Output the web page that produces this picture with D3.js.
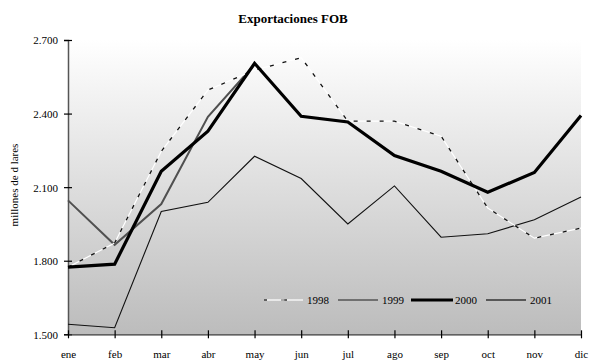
<!DOCTYPE html>
<html><head><meta charset="utf-8">
<script src="https://cdn.jsdelivr.net/npm/d3@7"></script>
<style>body{margin:0;background:#fff}svg{display:block}svg text{font-family:'Liberation Serif','Times New Roman','DejaVu Serif',serif !important;fill:#000}</style>
</head><body><svg id="c" width="589" height="360"></svg>
<script>
const months = ["ene","feb","mar","abr","may","jun","jul","ago","sep","oct","nov","dic"];
const yTicks = [1500,1800,2100,2400,2700];
const s1998 = [1774,1872,2246,2496,2577,2628,2369,2369,2308,2015,1892,1933];
const s1999 = [1541,1527,2001,2038,2226,2135,1950,2105,1896,1910,1967,2060];
const s2000 = [1774,1786,2165,2328,2605,2389,2366,2229,2165,2079,2160,2392];
const s2001 = [2046,1865,2031,2387,2600,null,null,null,null,null,null,null];
const seriesNames = ["1998","1999","2000","2001"];

const FONT = "'Liberation Serif','Times New Roman','DejaVu Serif',serif";
const svg = d3.select("#c").attr("font-family", FONT);
const L = 68, R = 581, T = 40, B = 334.3;
const x = d3.scalePoint().domain(months).range([L, R]);
const y = d3.scaleLinear().domain([1500, 2700]).range([B, T]);

const defs = svg.append("defs");
const g = defs.append("linearGradient").attr("id","bg").attr("x1",0).attr("y1",0).attr("x2",0).attr("y2",1);
g.append("stop").attr("offset","0%").attr("stop-color","#ffffff");
g.append("stop").attr("offset","100%").attr("stop-color","#bcbcbc");
svg.append("rect").attr("x",L).attr("y",T).attr("width",R-L).attr("height",B-T).attr("fill","url(#bg)");

svg.append("text").attr("x",293).attr("y",23).attr("text-anchor","middle").attr("font-family",FONT)
  .style("font-size","13px").style("font-weight","bold").text("Exportaciones FOB");

// axes
const yAx = svg.append("g").attr("transform",`translate(${L},0)`)
  .call(d3.axisLeft(y).tickValues(yTicks).tickSize(4).tickFormat(d => d3.format(",")(d).replace(",", ".")));
yAx.attr("font-family",FONT);
yAx.select(".domain").attr("stroke","#555").attr("stroke-width",1.5);
yAx.selectAll(".tick line").attr("x2",4).attr("x1",-4).attr("stroke","#000").attr("stroke-width",1.2);
yAx.selectAll(".tick text").attr("x",-10).attr("dy","0.35em").attr("font-family",FONT).style("font-size","11px").attr("fill","#000");

const xAx = svg.append("g").attr("transform",`translate(0,${B})`)
  .call(d3.axisBottom(x).tickSize(4).tickSizeOuter(0));
xAx.attr("font-family",FONT);
xAx.select(".domain").attr("stroke","#333").attr("stroke-width",1.2);
xAx.selectAll(".tick line").attr("y1",-4).attr("y2",4).attr("stroke","#000").attr("stroke-width",1.2);
xAx.selectAll(".tick text").attr("y",16).attr("font-family",FONT).style("font-size","11px").attr("fill","#000");

svg.append("text").attr("transform","translate(18,185) rotate(-90)").attr("text-anchor","middle").attr("font-family",FONT)
  .style("font-size","11px").text("millones de d lares");

function idxLine(arr){ return d3.line().defined(d => d.v != null).x(d => x(d.m)).y(d => y(d.v))(arr.map((v,i)=>({m:months[i],v}))); }

const plot = svg.append("g");
plot.append("path").attr("d",idxLine(s1999)).attr("fill","none").attr("stroke","#111").attr("stroke-width",1.1);
plot.append("path").attr("d",idxLine(s2001)).attr("fill","none").attr("stroke","#505050").attr("stroke-width",2);
plot.append("path").attr("d",idxLine(s1998)).attr("fill","none").attr("stroke","#fff").attr("stroke-width",1.2);
plot.append("path").attr("d",idxLine(s1998)).attr("fill","none").attr("stroke","#111").attr("stroke-width",1.3).attr("stroke-dasharray","4,9");
plot.append("path").attr("d",idxLine(s2000)).attr("fill","none").attr("stroke","#000").attr("stroke-width",3.2);

// legend
const legY = 300;
const leg = [
  {name:seriesNames[0], x0:264, x1:303, tx:307},
  {name:seriesNames[1], x0:338, x1:378, tx:382},
  {name:seriesNames[2], x0:411, x1:453, tx:455},
  {name:seriesNames[3], x0:486, x1:526, tx:530}
];
const lg = svg.append("g");
leg.forEach((d,i) => {
  if (i === 0) {
    lg.append("line").attr("x1",d.x0).attr("x2",d.x1).attr("y1",legY).attr("y2",legY).attr("stroke","#f4f4f4").attr("stroke-width",1.3);
    lg.append("line").attr("x1",d.x0).attr("x2",d.x1).attr("y1",legY).attr("y2",legY).attr("stroke","#333").attr("stroke-width",1.3).attr("stroke-dasharray","3,17");
    lg.append("line").attr("x1",d.x0+17).attr("x2",d.x0+21).attr("y1",legY).attr("y2",legY).attr("stroke","#888").attr("stroke-width",1.3);
  } else if (i === 1) {
    lg.append("line").attr("x1",d.x0).attr("x2",d.x1).attr("y1",legY).attr("y2",legY).attr("stroke","#555").attr("stroke-width",1.3);
  } else if (i === 2) {
    lg.append("line").attr("x1",d.x0).attr("x2",d.x1).attr("y1",legY).attr("y2",legY).attr("stroke","#000").attr("stroke-width",3);
  } else {
    lg.append("line").attr("x1",d.x0).attr("x2",d.x1).attr("y1",legY).attr("y2",legY).attr("stroke","#333").attr("stroke-width",1.4);
  }
  lg.append("text").attr("x",d.tx).attr("y",legY+4).attr("font-family",FONT).style("font-size","11px").text(d.name);
});
</script></body></html>
